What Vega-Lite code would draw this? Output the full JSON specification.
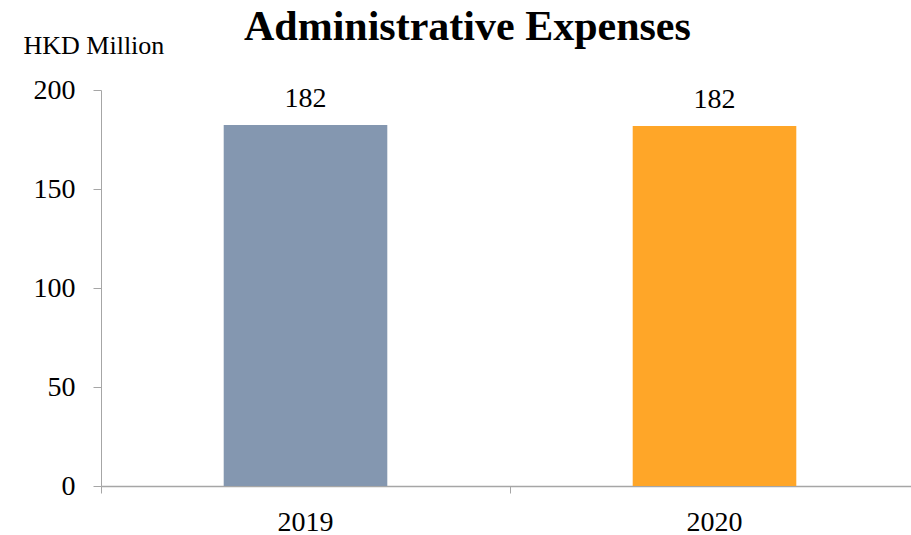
{
  "$schema": "https://vega.github.io/schema/vega-lite/v6.json",
  "width": 810,
  "height": 396,
  "autosize": {"type": "none"},
  "padding": {"left": 101, "top": 90, "right": 0, "bottom": 49},
  "background": "white",
  "title": {
    "text": "Administrative Expenses",
    "font": "Liberation Serif",
    "fontSize": 42,
    "fontWeight": "bold",
    "color": "black",
    "anchor": "start",
    "frame": "group",
    "dx": 143,
    "dy": 50,
    "baseline": "alphabetic",
    "offset": 0
  },
  "config": {
    "view": {"stroke": null},
    "font": "Liberation Serif"
  },
  "data": {
    "values": [
      {"year": "2019", "value": 182.3, "label": "182"},
      {"year": "2020", "value": 181.8, "label": "182"}
    ]
  },
  "encoding": {
    "x": {
      "field": "year",
      "type": "nominal",
      "sort": null,
      "scale": {"range": [0, 818], "paddingInner": 0.6, "paddingOuter": 0.3},
      "axis": {
        "title": null,
        "labelAngle": 0,
        "labelFont": "Liberation Serif",
        "labelFontSize": 28,
        "labelColor": "black",
        "labelPadding": 15,
        "tickSize": 7,
        "tickColor": "#a6a6a6",
        "domainColor": "#a6a6a6",
        "domainWidth": 1.5,
        "bandPosition": -0.75,
        "grid": false
      }
    },
    "y": {
      "field": "value",
      "type": "quantitative",
      "scale": {"domain": [0, 200]},
      "axis": {
        "title": "HKD Million",
        "titleAngle": 0,
        "titleAlign": "left",
        "titleBaseline": "alphabetic",
        "titleX": -78,
        "titleY": -37,
        "titleFont": "Liberation Serif",
        "titleFontSize": 26,
        "titleFontWeight": "normal",
        "titleColor": "black",
        "values": [0, 50, 100, 150, 200],
        "labelFont": "Liberation Serif",
        "labelFontSize": 28,
        "labelColor": "black",
        "labelPadding": 18,
        "tickSize": 8,
        "tickColor": "#a6a6a6",
        "domainColor": "#a6a6a6",
        "grid": false
      }
    }
  },
  "layer": [
    {
      "mark": {"type": "bar"},
      "encoding": {
        "color": {
          "field": "year",
          "type": "nominal",
          "scale": {"domain": ["2019", "2020"], "range": ["#8497B0", "#FFA628"]},
          "legend": null
        }
      }
    },
    {
      "mark": {
        "type": "text",
        "baseline": "alphabetic",
        "dy": -18,
        "font": "Liberation Serif",
        "fontSize": 28,
        "color": "black"
      },
      "encoding": {"text": {"field": "label"}}
    }
  ]
}
